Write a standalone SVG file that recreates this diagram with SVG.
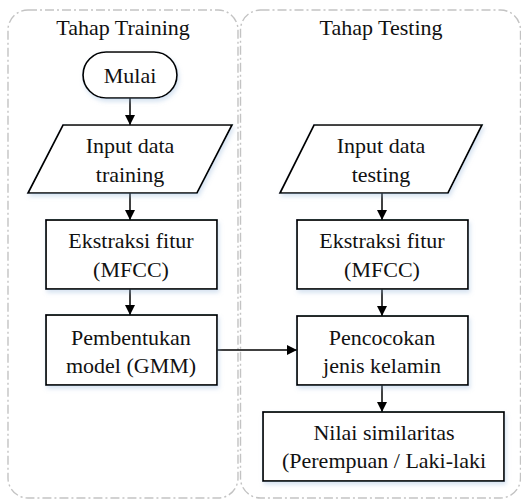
<svg xmlns="http://www.w3.org/2000/svg" width="521" height="500" viewBox="0 0 521 500">
<defs>
<marker id="arr" markerWidth="10" markerHeight="10" refX="10" refY="5" orient="auto" markerUnits="userSpaceOnUse">
<path d="M0,0 L10,5 L0,10 Z" fill="#000"/>
</marker>
<filter id="sh" x="-10%" y="-10%" width="130%" height="140%">
<feDropShadow dx="1.5" dy="3" stdDeviation="2" flood-color="#8fb0d8" flood-opacity="0.35"/>
</filter>
</defs>
<style>
.lane{fill:none;stroke:#c3c3c3;stroke-width:1.4;stroke-dasharray:9 3 2 3}
.node{fill:#fff;stroke:#000;stroke-width:1.7;filter:url(#sh)}
.conn{stroke:#000;stroke-width:1.5;fill:none;marker-end:url(#arr)}
</style>
<rect width="521" height="500" fill="#fff"/>
<g font-family="Liberation Serif, serif" font-size="22" fill="#111" text-anchor="middle">
<g id="lane-training">
<rect class="lane" x="8" y="10" width="230" height="488" rx="20"/>
<text x="123" y="35">Tahap Training</text>
</g>
<g id="lane-testing">
<rect class="lane" x="240.5" y="10" width="280" height="488" rx="20"/>
<text x="381" y="35">Tahap Testing</text>
</g>
<g id="connectors">
<line class="conn" x1="130" y1="98" x2="130" y2="125"/>
<line class="conn" x1="130" y1="193" x2="130" y2="220"/>
<line class="conn" x1="130" y1="289" x2="130" y2="315"/>
<line class="conn" x1="217" y1="350" x2="297" y2="350"/>
<line class="conn" x1="382" y1="193" x2="382" y2="220"/>
<line class="conn" x1="382" y1="289" x2="382" y2="316"/>
<line class="conn" x1="382" y1="385" x2="382" y2="412"/>
</g>
<g id="mulai">
<rect class="node" x="83" y="52" width="94" height="46" rx="23"/>
<text x="130" y="83">Mulai</text>
</g>
<g id="input-training">
<polygon class="node" points="63,125 232,125 197,193 28,193"/>
<text x="130" y="153">Input data</text>
<text x="130" y="182">training</text>
</g>
<g id="ekstraksi-training">
<rect class="node" x="46" y="220" width="171" height="69"/>
<text x="131" y="248">Ekstraksi fitur</text>
<text x="131" y="277">(MFCC)</text>
</g>
<g id="pembentukan">
<rect class="node" x="46" y="315" width="171" height="70"/>
<text x="131" y="345">Pembentukan</text>
<text x="131" y="373">model (GMM)</text>
</g>
<g id="input-testing">
<polygon class="node" points="314,125 482,125 448,193 280,193"/>
<text x="381" y="153">Input data</text>
<text x="381" y="182">testing</text>
</g>
<g id="ekstraksi-testing">
<rect class="node" x="297" y="220" width="171" height="69"/>
<text x="382" y="248">Ekstraksi fitur</text>
<text x="382" y="277">(MFCC)</text>
</g>
<g id="pencocokan">
<rect class="node" x="297" y="316" width="171" height="69"/>
<text x="382" y="345">Pencocokan</text>
<text x="382" y="373">jenis kelamin</text>
</g>
<g id="nilai">
<rect class="node" x="263" y="412" width="241" height="69"/>
<text x="384" y="440">Nilai similaritas</text>
<text x="384" y="468">(Perempuan / Laki-laki</text>
</g>
</g>
</svg>
